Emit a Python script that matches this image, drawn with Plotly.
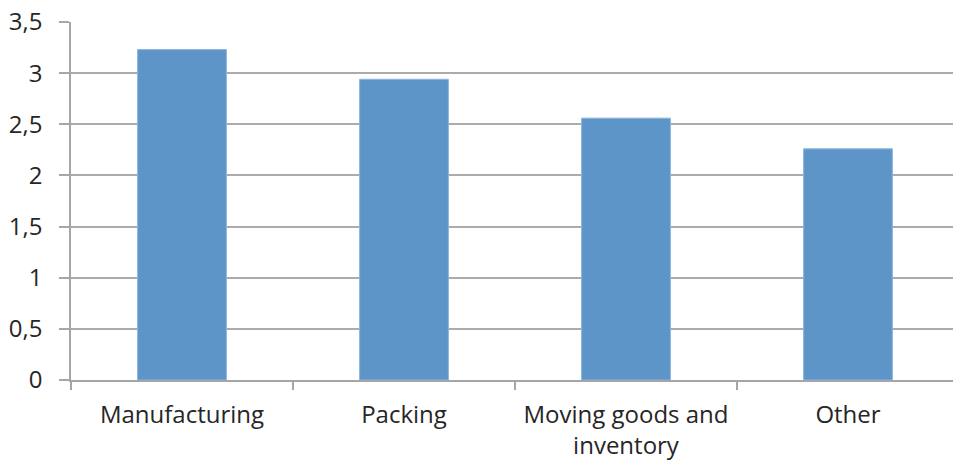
import plotly.graph_objects as go

categories = ["Manufacturing", "Packing", "Moving goods and<br>inventory", "Other"]
values = [3.23, 2.94, 2.56, 2.26]
y_ticks = [0, 0.5, 1, 1.5, 2, 2.5, 3, 3.5]

fig = go.Figure(go.Bar(
    x=categories, y=values, width=0.4,
    marker=dict(color="#5E95C9", line=dict(color="#8DB3DC", width=1)),
))

fig.update_layout(
    width=953, height=461,
    margin=dict(l=71, r=0, t=22, b=81),
    paper_bgcolor="white", plot_bgcolor="white",
    separators=", ",
    showlegend=False,
    font=dict(family="Open Sans", size=24, color="#262626"),
    bargap=0.6,
)
fig.update_xaxes(
    range=[-0.5, 3.473], showgrid=False,
    showline=True, linecolor="#A6A6A6", linewidth=1.5,
    ticks="outside", tickson="boundaries", ticklen=8, tickcolor="#A6A6A6", tickwidth=1.5,
    ticklabelstandoff=12,
)
fig.update_yaxes(
    range=[0, 3.5], tickvals=y_ticks,
    ticktext=[str(v).replace(".", ",") if v != int(v) else str(int(v)) for v in y_ticks],
    showgrid=True, gridcolor="#ABABAB", gridwidth=1.5,
    showline=True, linecolor="#A6A6A6", linewidth=1.5,
    ticks="outside", ticklen=10, tickcolor="#A6A6A6", tickwidth=1.5,
    ticklabelstandoff=12, zeroline=False,
)

fig.write_html("out.html")
